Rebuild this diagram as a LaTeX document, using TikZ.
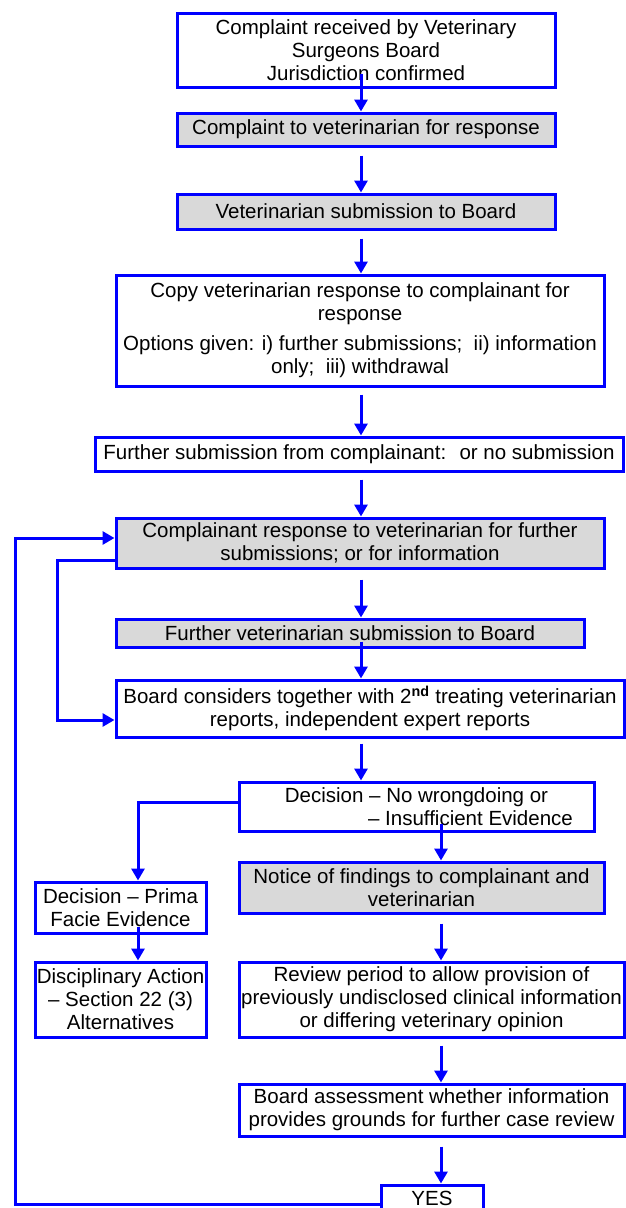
\documentclass[tikz,border=0pt]{standalone}
\usepackage{fontspec}
\setmainfont{Liberation Sans}
\usetikzlibrary{arrows.meta}
\definecolor{lineblue}{RGB}{0,0,255}
\definecolor{boxgray}{RGB}{217,217,217}
\begin{document}
\begin{tikzpicture}[x=1pt,y=-1pt,
  box/.style={draw=lineblue, line width=3pt, fill=white, inner sep=0pt, align=center,
    font=\fontsize{20.5}{23}\selectfont},
  graybox/.style={box, fill=boxgray},
  arr/.style={draw=lineblue, line width=3pt, -{Triangle[length=12pt,width=13pt]}},
]
\useasboundingbox (0,0) rectangle (626,1208);
\clip (0,0) rectangle (626,1208);
\fill[white] (0,0) rectangle (626,1208);

\coordinate (c1) at (361,0);
\coordinate (c2) at (441,0);
\coordinate (c3) at (138,0);
\coordinate (c4) at (15,0);
\coordinate (c5) at (57,0);

\node[box, minimum width=378pt, minimum height=74pt] (b1) at (366,50)
  {Complaint received by Veterinary\\Surgeons Board\\Jurisdiction confirmed};
\node[graybox, minimum width=378pt, minimum height=33pt] (b2) at (366,129.5)
  {Complaint to veterinarian for response};
\node[graybox, minimum width=378pt, minimum height=35pt] (b3) at (366,211.5)
  {Veterinarian submission to Board};
\node[box, minimum width=488pt, minimum height=111pt] (b4) at (360,330.5)
  {Copy veterinarian response to complainant for\\response\\[7pt]Options given: i) further submissions; \ ii) information\\only; \ iii) withdrawal};
\node[box, minimum width=528pt, minimum height=34pt] (b5) at (359,454)
  {Further submission from complainant: \ or no submission};
\node[graybox, minimum width=488pt, minimum height=50pt] (b6) at (360,543)
  {Complainant response to veterinarian for further\\submissions; or for information};
\node[graybox, minimum width=468pt, minimum height=28pt] (b7) at (350,633)
  {Further veterinarian submission to Board};
\node[box, minimum width=508pt, minimum height=57pt] (b8) at (370,708.5)
  {Board considers together with 2\textsuperscript{\textbf{nd}} treating veterinarian\\reports, independent expert reports};
\node[box, minimum width=355pt, minimum height=49pt] (b9) at (416.5,806.5)
  {Decision -- No wrongdoing or\\\hspace*{108pt}-- Insufficient Evidence};
\node[box, minimum width=171pt, minimum height=51pt] (b10) at (120.5,907.5)
  {Decision -- Prima\\Facie Evidence};
\node[box, minimum width=171pt, minimum height=75pt] (b11) at (120.5,999.5)
  {Disciplinary Action\\-- Section 22 (3)\\Alternatives};
\node[graybox, minimum width=365pt, minimum height=51pt] (b12) at (421.5,887.5)
  {Notice of findings to complainant and\\veterinarian};
\node[box, minimum width=385pt, minimum height=75pt] (b13) at (431.5,999.5)
  {Review period to allow provision of\\previously undisclosed clinical information\\or differing veterinary opinion};
\node[box, minimum width=385pt, minimum height=52pt] (b14) at (431.5,1110)
  {Board assessment whether information\\provides grounds for further case review};
\node[box, minimum width=102pt, minimum height=40pt] (b15) at (432,1205)
  {\raisebox{13pt}{YES}};

% main column
\draw[arr] ([yshift=15pt]b1.south -| c1) -- (b2.north -| c1);
\draw[arr] ([yshift=-8pt]b2.south -| c1) -- (b3.north -| c1);
\draw[arr] ([yshift=-8pt]b3.south -| c1) -- (b4.north -| c1);
\draw[arr] ([yshift=-7pt]b4.south -| c1) -- (b5.north -| c1);
\draw[arr] ([yshift=-7pt]b5.south -| c1) -- (b6.north -| c1);
\draw[arr] ([yshift=-10pt]b6.south -| c1) -- (b7.north -| c1);
\draw[arr] ([yshift=7pt]b7.south -| c1) -- (b8.north -| c1);
\draw[arr] ([yshift=-5pt]b8.south -| c1) -- (b9.north -| c1);
% right column
\draw[arr] ([yshift=9pt]b9.south -| c2) -- (b12.north -| c2);
\draw[arr] ([yshift=-9pt]b12.south -| c2) -- (b13.north -| c2);
\draw[arr] ([yshift=-7pt]b13.south -| c2) -- (b14.north -| c2);
\draw[arr] ([yshift=-9pt]b14.south -| c2) -- (b15.north -| c2);
% left branch
\draw[arr] ([yshift=4.5pt]b9.west) -| (b10.north -| c3);
\draw[arr] ([yshift=8pt]b10.south -| c3) -- (b11.north -| c3);
% loops
\draw[arr] ([yshift=1pt]b15.west) -- ([yshift=1pt]b15.west -| c4) |- ([yshift=5pt]b6.west);
\draw[arr] ([yshift=-17pt]b6.west) -- ([yshift=-17pt]b6.west -| c5) |- ([yshift=-11.5pt]b8.west);
\end{tikzpicture}
\end{document}
